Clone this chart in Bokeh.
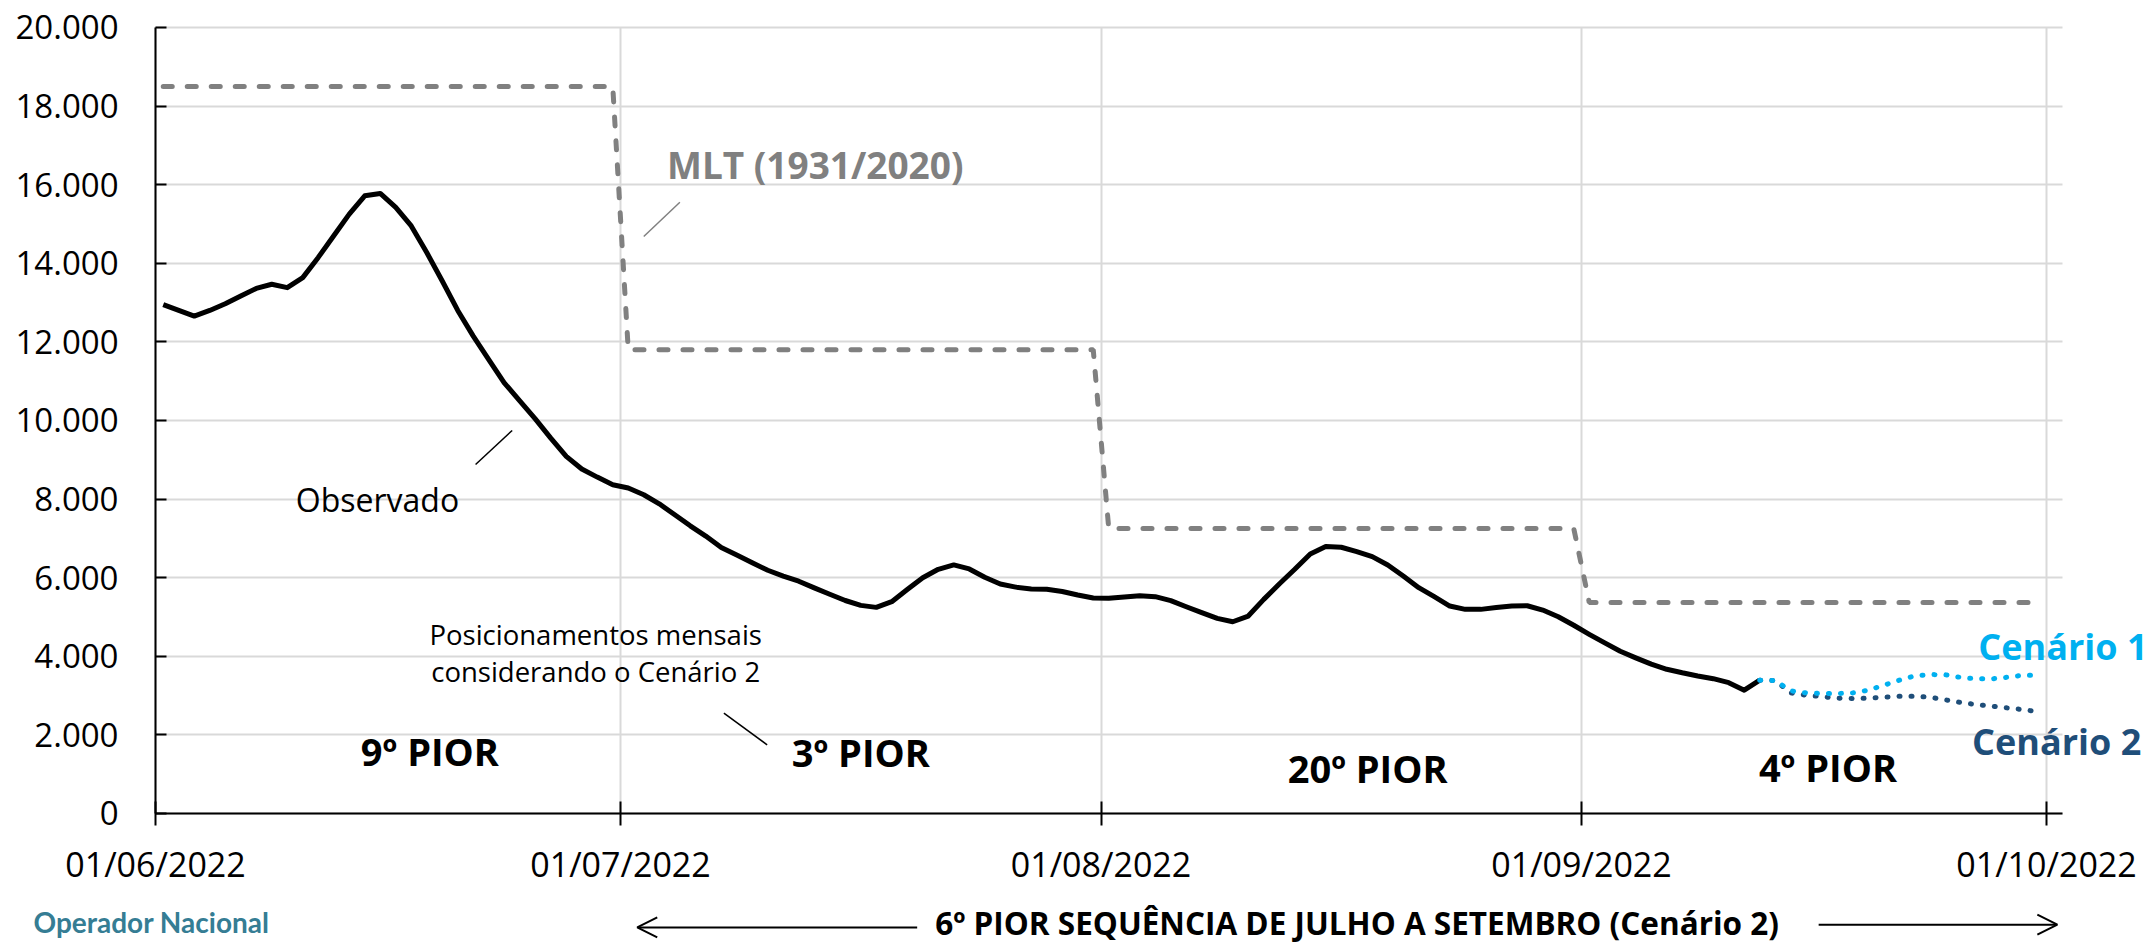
import numpy as np
import pandas as pd
from bokeh.plotting import figure
from bokeh.models import (Range1d, FixedTicker, DatetimeTickFormatter, Label,
                          Arrow, OpenHead, ColumnDataSource, Grid)
from bokeh.embed import file_html
from bokeh.resources import INLINE

# ---------------- data ----------------
obs_start = "2022-06-01"
obs_end = "2022-09-12"
observado = [12950, 12800, 12657, 12800, 12970, 13170, 13360, 13466, 13381, 13636,
             14150, 14700, 15251, 15718, 15778, 15421, 14950, 14274, 13550, 12800,
             12148, 11550, 10959, 10500, 10040, 9550, 9087, 8766, 8560, 8365,
             8281, 8110, 7880, 7600, 7320, 7060, 6770, 6580, 6380, 6190,
             6040, 5910, 5740, 5580, 5420, 5296, 5245, 5389, 5700, 6000,
             6214, 6325, 6223, 6010, 5840, 5760, 5715, 5704, 5650, 5560,
             5483, 5475, 5510, 5542, 5517, 5415, 5260, 5110, 4964, 4879,
             5024, 5448, 5840, 6214, 6605, 6792, 6775, 6665, 6537, 6325,
             6044, 5746, 5517, 5279, 5194, 5194, 5240, 5280, 5287, 5177,
             5007, 4790, 4560, 4340, 4130, 3960, 3800, 3670, 3580, 3500,
             3430, 3330, 3137, 3392]

cen_start = "2022-09-12"
cen_end = "2022-09-30"
cenario1 = [3392, 3384, 3120, 3069, 3052, 3052, 3069, 3137, 3264, 3392,
            3502, 3536, 3528, 3460, 3426, 3426, 3469, 3520, 3520]
cenario2 = [3392, 3384, 3069, 3010, 2975, 2933, 2924, 2933, 2958, 2984,
            2984, 2958, 2890, 2822, 2771, 2729, 2686, 2644, 2584]

mlt_months = ["2022-06", "2022-07", "2022-08", "2022-09"]
mlt_values = [18500, 11800, 7250, 5370]

x_ticks = ["2022-06-01", "2022-07-01", "2022-08-01", "2022-09-01", "2022-10-01"]
y_ticks = [0, 2000, 4000, 6000, 8000, 10000, 12000, 14000, 16000, 18000, 20000]
y_tick_labels = ["0", "2.000", "4.000", "6.000", "8.000", "10.000", "12.000",
                 "14.000", "16.000", "18.000", "20.000"]

# ---------------- helpers ----------------
HALF = pd.Timedelta(hours=12)
EPOCH = pd.Timestamp("1970-01-01")


def ms(ts):
    return (pd.Timestamp(ts) - EPOCH) / pd.Timedelta(milliseconds=1)


T0 = pd.Timestamp("2022-06-01")


def dx(days):
    return ms(T0 + pd.Timedelta(days=days))


AX_X0, AX_X1 = ms("2022-06-01"), ms("2022-10-02")   # Excel-like axis extent
AX_Y0, AX_Y1 = 0, 20000

obs_x = pd.date_range(obs_start, obs_end, freq="D") + HALF
cen_x = pd.date_range(cen_start, cen_end, freq="D") + HALF

mlt_x, mlt_y = [], []
for m, v in zip(mlt_months, mlt_values):
    days = pd.date_range(m + "-01", periods=pd.Period(m).days_in_month, freq="D")
    for d in days:
        mlt_x.append(d + HALF)
        mlt_y.append(v)

src_obs = ColumnDataSource(dict(x=obs_x, y=observado))
src_c1 = ColumnDataSource(dict(x=cen_x, y=cenario1))
src_c2 = ColumnDataSource(dict(x=cen_x, y=cenario2))
src_mlt = ColumnDataSource(dict(x=mlt_x, y=mlt_y))

FONT = "Open Sans"
W, H = 2149, 945
Y0, Y1 = -3358.8, 20687.0
PX_PER_UNIT = H / (Y1 - Y0)

# The frame covers the whole canvas so that texts outside the axes area are
# not clipped; axes are pinned at their locations with fixed_location.
p = figure(width=W, height=H, x_axis_type="datetime",
           output_backend="svg", toolbar_location=None,
           x_range=Range1d(dx(-10), dx(128.645)),
           y_range=Range1d(Y0, Y1),
           min_border_left=0, min_border_right=0,
           min_border_top=0, min_border_bottom=0)
p.outline_line_color = None
p.background_fill_color = "white"
p.border_fill_color = "white"

xt = FixedTicker(ticks=[ms(t) for t in x_ticks])
yt = FixedTicker(ticks=y_ticks)
p.xaxis.ticker = xt
p.yaxis.ticker = yt
fmt = "%d/%m/%Y"
p.xaxis.formatter = DatetimeTickFormatter(
    microseconds=fmt, milliseconds=fmt, seconds=fmt, minsec=fmt, minutes=fmt,
    hourmin=fmt, hours=fmt, days=fmt, months=fmt, years=fmt)
p.yaxis.major_label_overrides = {t: l for t, l in zip(y_ticks, y_tick_labels)}

p.xaxis.fixed_location = AX_Y0
p.yaxis.fixed_location = AX_X0
p.xaxis.bounds = (AX_X0, AX_X1)
p.yaxis.bounds = (AX_Y0, AX_Y1)

# grid lines limited to the axes area
grid_color = "#D9D9D9"
if "cross_bounds" in Grid.properties():
    p.xgrid.ticker = xt
    p.ygrid.ticker = yt
    p.xgrid.bounds = (AX_X0, AX_X1)
    p.ygrid.bounds = (AX_Y0, AX_Y1)
    p.xgrid.cross_bounds = (AX_Y0, AX_Y1)
    p.ygrid.cross_bounds = (AX_X0, AX_X1)
    for g in (p.xgrid, p.ygrid):
        g.grid_line_color = grid_color
        g.grid_line_width = 2
        g.level = "underlay"
else:
    p.xgrid.visible = False
    p.ygrid.visible = False
    gx = [ms(t) for t in x_ticks]
    p.segment(x0=gx, y0=[AX_Y0] * len(gx), x1=gx, y1=[AX_Y1] * len(gx),
              line_color=grid_color, line_width=2, level="underlay")
    p.segment(x0=[AX_X0] * len(y_ticks), y0=y_ticks, x1=[AX_X1] * len(y_ticks),
              y1=y_ticks, line_color=grid_color, line_width=2, level="underlay")

for ax in (p.xaxis, p.yaxis):
    ax.axis_line_color = "black"
    ax.axis_line_width = 2
    ax.major_tick_line_color = "black"
    ax.major_tick_line_width = 2
    ax.minor_tick_line_color = None
    ax.major_label_text_font = FONT
    ax.major_label_text_color = "black"

p.xaxis.major_label_text_font_size = "34px"
p.yaxis.major_label_text_font_size = "33px"
p.xaxis.major_tick_in = 12
p.xaxis.major_tick_out = 12
p.xaxis.major_label_standoff = 16
p.yaxis.major_tick_in = 11
p.yaxis.major_tick_out = 0
p.yaxis.major_label_standoff = 37

# ---------------- series ----------------
p.line("x", "y", source=src_mlt, line_color="#808080", line_width=5,
       line_dash="9 15", line_cap="round")
p.line("x", "y", source=src_obs, line_color="black", line_width=5,
       line_join="round")
p.line("x", "y", source=src_c2, line_color="#1F4E79", line_width=5,
       line_dash="1 11", line_cap="round")
p.line("x", "y", source=src_c1, line_color="#00B0F0", line_width=5,
       line_dash="1 11", line_cap="round")

# ---------------- annotations ----------------
p.segment(x0=[dx(31.5)], y0=[14682], x1=[dx(33.83)], y1=[15555],
          line_color="#808080", line_width=1.5)
p.segment(x0=[dx(20.65)], y0=[8880], x1=[dx(23.01)], y1=[9746],
          line_color="black", line_width=1.5)
p.segment(x0=[dx(36.67)], y0=[2552], x1=[dx(39.46)], y1=[1748],
          line_color="black", line_width=1.5)


def lab(text, d, v, size, color="black", bold=False, align="left", font=FONT):
    # small upward correction so that the drawn baseline sits where intended
    v = v + 0.38 * size / PX_PER_UNIT
    p.add_layout(Label(x=dx(d), y=v, text=text, text_font=font,
                       text_font_size=f"{size}px", text_color=color,
                       text_font_style="bold" if bold else "normal",
                       text_align=align, text_baseline="alphabetic"))


lab("MLT (1931/2020)", 33.0, 16150, 37, color="#808080", bold=True)
lab("Observado", 14.32, 7684, 32, align="center")
lab("Posicionamentos mensais", 28.4, 4293, 27.5, align="center")
lab("considerando o Cenário 2", 28.4, 3341, 27.5, align="center")

lab("9º PIOR", 17.7, 1221, 38, bold=True, align="center")
lab("3º PIOR", 45.5, 1204, 38, bold=True, align="center")
lab("20º PIOR", 78.2, 779, 38, bold=True, align="center")
lab("4º PIOR", 107.9, 822, 38, bold=True, align="center")

lab("Cenário 1", 117.6, 3893, 36, color="#00B0F0", bold=True)
lab("Cenário 2", 117.2, 1476, 36, color="#1F4E79", bold=True)

lab("6º PIOR SEQUÊNCIA DE JULHO A SETEMBRO (Cenário 2)", 50.3, -3075, 31.5,
    bold=True)
p.add_layout(Arrow(end=OpenHead(size=20, line_width=2, line_color="black"),
                   x_start=dx(49.14), y_start=-2900, x_end=dx(31.08), y_end=-2900,
                   line_width=2, line_color="black"))
p.add_layout(Arrow(end=OpenHead(size=20, line_width=2, line_color="black"),
                   x_start=dx(107.3), y_start=-2830, x_end=dx(122.7), y_end=-2830,
                   line_width=2, line_color="black"))

lab("Operador Nacional", -7.87, -3020, 28, color="#357d94", bold=True,
    font="Lato")

open("out.html", "w").write(file_html(p, INLINE))
